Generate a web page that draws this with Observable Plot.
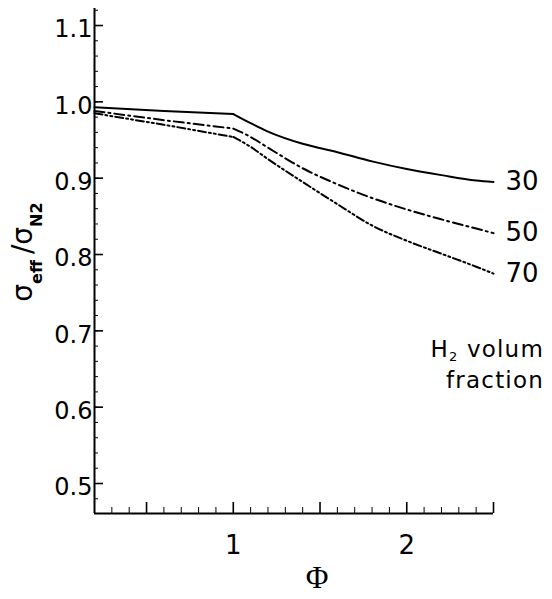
<!DOCTYPE html>
<html>
<head>
<meta charset="utf-8">
<script src="https://cdn.jsdelivr.net/npm/d3@7"></script>
<script src="https://cdn.jsdelivr.net/npm/@observablehq/plot@0.6"></script>
<style>
  html, body { margin: 0; padding: 0; background: #fff; }
  #chart svg { display: block; overflow: visible; }
</style>
</head>
<body>
<div id="chart"></div>
<script>
// ---- data ----
const phi    = [0.2,   0.6,   1.0,   1.1,   1.2,   1.4,   1.6,   1.8,   2.0,   2.2,   2.4,   2.5];
const h2_30  = [0.993, 0.988, 0.984, 0.972, 0.961, 0.945, 0.934, 0.922, 0.912, 0.904, 0.897, 0.895];
const h2_50  = [0.988, 0.976, 0.965, 0.954, 0.940, 0.913, 0.892, 0.874, 0.859, 0.846, 0.834, 0.828];
const h2_70  = [0.985, 0.970, 0.954, 0.941, 0.925, 0.895, 0.866, 0.838, 0.818, 0.801, 0.784, 0.775];
const seriesNames = ["30", "50", "70"];
const seriesValues = [h2_30, h2_50, h2_70];
const dashes = ["none", "10,4,2,4", "8,3,2,3,2,3"];
const kinkPhi = 1.0;

const xDomain = [0.2, 2.5];
const yDomain = [0.4607, 1.1223];
const xTickLabels = [1, 2];
const xMajorTicks = [0.5, 1.0, 1.5, 2.0, 2.5];
const xMinorTicks = [0.3, 0.4, 0.6, 0.7, 0.8, 0.9, 1.1, 1.2, 1.3, 1.4, 1.6, 1.7, 1.8, 1.9, 2.1, 2.2, 2.3, 2.4];
const yTickLabels = [0.5, 0.6, 0.7, 0.8, 0.9, 1.0, 1.1];
const yMinorTicks = d3.range(24, 57).map(i => i * 0.02);

// ---- layout ----
const W = 552, H = 599;
const mL = 94, mR = 59, mT = 8, mB = 86;
const frameW = W - mL - mR, frameH = H - mT - mB;
const FONT = "DejaVu Sans";

const rows = seriesNames.flatMap((s, k) => phi.map((p, i) => ({series: s, phi: p, v: seriesValues[k][i]})));
const ends = seriesNames.map((s, k) => ({series: s, phi: phi[phi.length - 1], v: seriesValues[k][phi.length - 1]}));

const lineMarks = seriesNames.flatMap((s, k) => {
  const dash = dashes[k] === "none" ? null : dashes[k];
  const rs = rows.filter(d => d.series === s);
  return [
    Plot.line(rs.filter(d => d.phi <= kinkPhi), {x: "phi", y: "v", stroke: "#000", strokeWidth: 2, strokeDasharray: dash}),
    Plot.line(rs.filter(d => d.phi >= kinkPhi), {x: "phi", y: "v", stroke: "#000", strokeWidth: 2, strokeDasharray: dash, curve: "monotone-x"})
  ];
});

const chart = Plot.plot({
  width: W, height: H,
  marginLeft: mL, marginRight: mR, marginTop: mT, marginBottom: mB,
  style: {fontFamily: FONT, color: "#000", background: "#fff"},
  x: {domain: xDomain, axis: null},
  y: {domain: yDomain, axis: null},
  marks: [
    // axis lines
    Plot.ruleX([xDomain[0]], {stroke: "#000", strokeWidth: 2}),
    Plot.ruleY([yDomain[0]], {stroke: "#000", strokeWidth: 2}),
    // inward ticks
    Plot.tickY(yTickLabels, {y: d => d, insetRight: frameW - 9, stroke: "#000", strokeWidth: 1.6}),
    Plot.tickY(yMinorTicks, {y: d => d, insetRight: frameW - 4, stroke: "#000", strokeWidth: 1}),
    Plot.tickX(xMajorTicks, {x: d => d, insetTop: frameH - 11, stroke: "#000", strokeWidth: 1.6}),
    Plot.tickX(xMinorTicks, {x: d => d, insetTop: frameH - 6, stroke: "#000", strokeWidth: 1}),
    // tick labels
    Plot.axisY(yTickLabels, {tickSize: 0, tickPadding: 2, dy: 4, fontSize: 24, tickFormat: d3.format(".1f"), label: null}),
    Plot.axisX(xTickLabels, {tickSize: 0, tickPadding: 22, fontSize: 26, tickFormat: d3.format("d"), label: null}),
    // series
    ...lineMarks,
    Plot.text(ends, {x: "phi", y: "v", text: "series", textAnchor: "start", dx: 12, fontSize: 26, fill: "#000"}),
    // x axis title
    Plot.text(["Φ"], {text: d => d, frameAnchor: "bottom", dx: 23, dy: 74, fontFamily: "Liberation Serif", fontSize: 31, fill: "#000"})
  ]
});

document.getElementById("chart").appendChild(chart);

// y-axis title with subscripts
const svg = d3.select(chart);
const yl = svg.append("text")
  .attr("transform", "translate(32,252) rotate(-90)")
  .attr("text-anchor", "middle")
  .attr("font-family", FONT)
  .attr("fill", "#000");
yl.append("tspan").attr("font-size", 28).text("σ");
yl.append("tspan").attr("font-size", 16).attr("font-weight", "bold").attr("dy", 10).text("eff");
yl.append("tspan").attr("font-size", 28).attr("dy", -10).attr("dx", 6).text("/σ");
yl.append("tspan").attr("font-size", 16).attr("font-weight", "bold").attr("dy", 10).text("N2");

// legend annotation (one text, two lines)
const ann = svg.append("text")
  .attr("x", 544).attr("y", 357)
  .attr("text-anchor", "end")
  .attr("font-family", FONT).attr("font-size", 23)
  .attr("letter-spacing", "1.2px")
  .attr("fill", "#000");
ann.append("tspan").text("H");
ann.append("tspan").attr("font-size", 13).attr("dy", 4).text("2");
ann.append("tspan").attr("dy", -4).text(" volum");
ann.append("tspan").attr("x", 544).attr("dy", 31).text("fraction");
</script>
</body>
</html>
